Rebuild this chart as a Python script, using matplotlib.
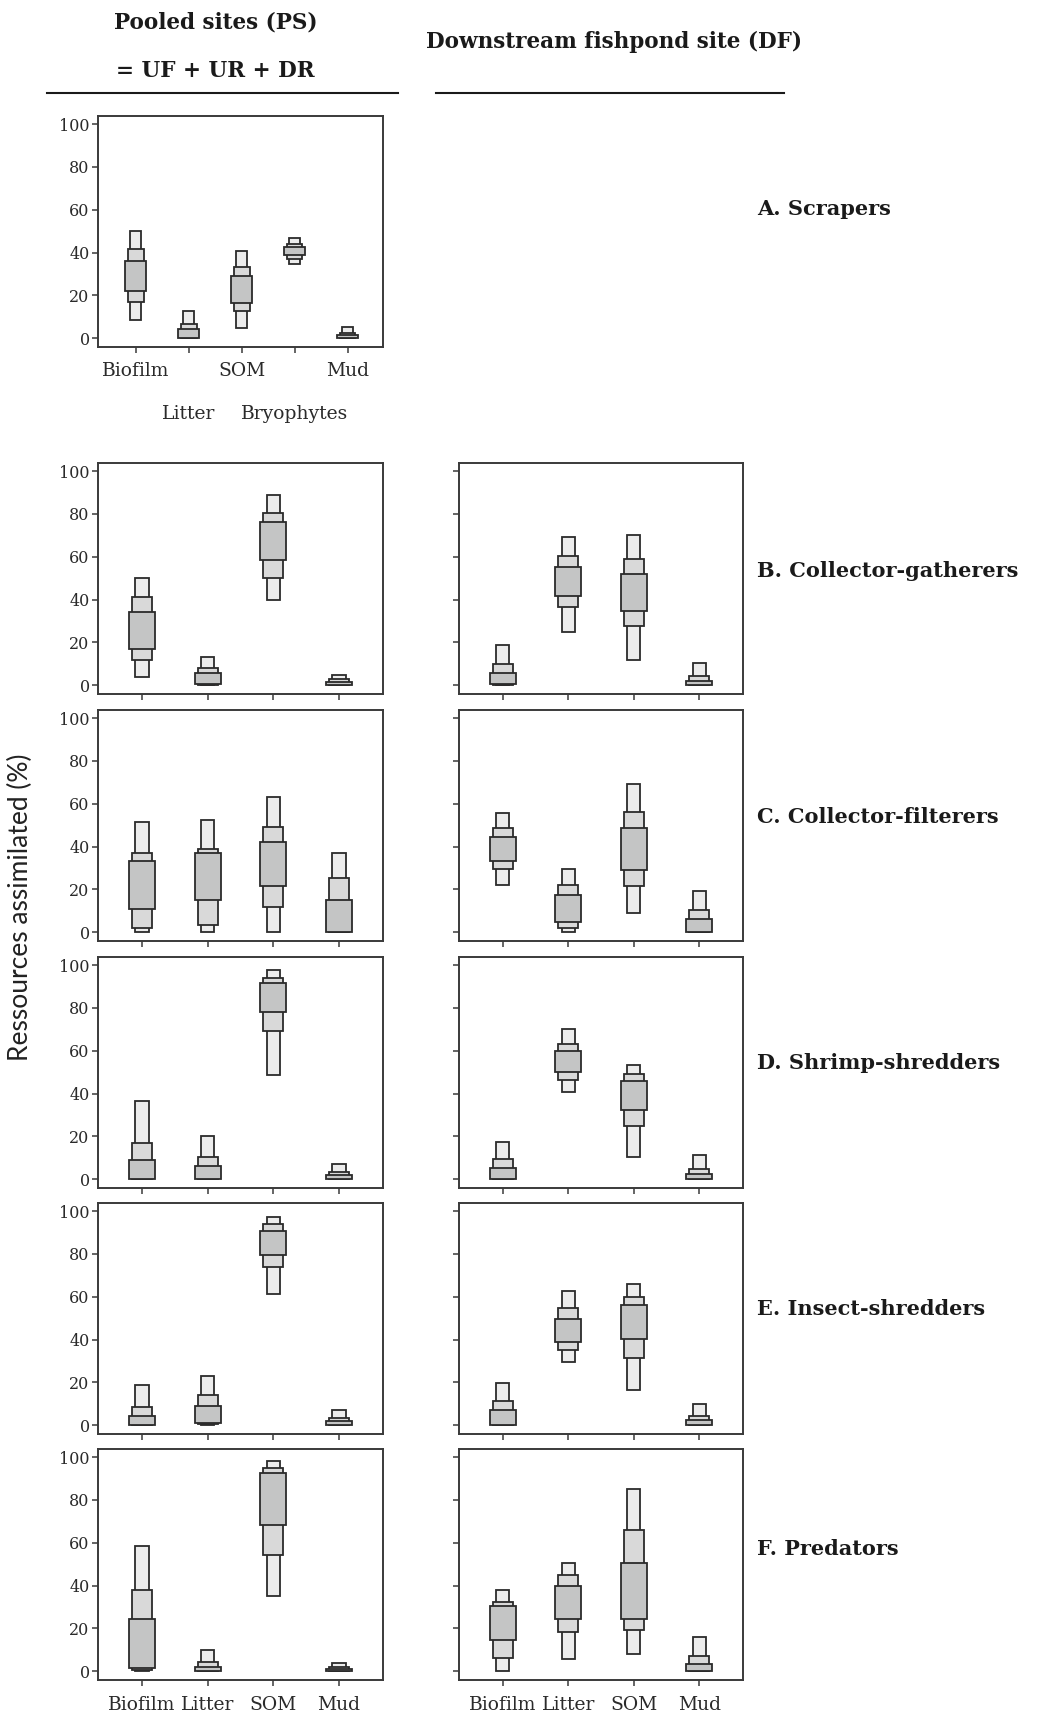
import matplotlib
matplotlib.use("Agg")
import matplotlib.pyplot as plt
from matplotlib.lines import Line2D

# columns: lo95, lo75, lo50, hi50, hi75, hi95 (% assimilated)
cats_a = ["Biofilm", "Litter", "SOM", "Bryophytes", "Mud"]
cats = ["Biofilm", "Litter", "SOM", "Mud"]

scr_ps = [[8.7, 16.7, 22.2, 36.0, 41.7, 50.1],
          [0.0, 0.1, 0.3, 4.1, 6.6, 12.6],
          [5.0, 12.5, 16.5, 28.9, 33.2, 40.6],
          [34.6, 37.1, 38.8, 42.7, 44.0, 46.6],
          [0.0, 0.1, 0.3, 1.6, 2.5, 5.3]]

cg_ps = [[3.9, 12.0, 17.0, 34.4, 41.4, 50.0],
         [0.0, 0.2, 0.5, 5.5, 8.0, 13.3],
         [40.0, 50.3, 58.4, 76.1, 80.5, 88.8],
         [0.0, 0.1, 0.3, 1.7, 2.7, 5.0]]
cg_df = [[0.0, 0.2, 0.4, 5.9, 9.7, 18.6],
         [24.7, 36.4, 41.7, 55.3, 60.5, 69.2],
         [11.9, 27.7, 34.7, 52.0, 59.1, 70.2],
         [0.0, 0.1, 0.3, 2.2, 4.2, 10.6]]

cf_ps = [[0.0, 2.0, 11.0, 33.4, 37.0, 51.4],
         [0.0, 3.6, 15.2, 37.0, 39.0, 52.5],
         [0.0, 11.6, 21.4, 42.3, 49.2, 63.0],
         [0.0, 0.0, 0.1, 14.9, 25.2, 37.2]]
cf_df = [[22.0, 29.4, 33.4, 44.4, 48.8, 55.9],
         [0.0, 1.9, 4.8, 17.5, 22.1, 29.7],
         [9.0, 21.8, 29.1, 48.5, 56.3, 69.3],
         [0.0, 0.1, 0.3, 6.0, 10.2, 19.3]]

ss_ps = [[0.0, 0.1, 0.3, 8.75, 16.7, 36.7],
         [0.0, 0.1, 0.3, 6.25, 10.3, 20.0],
         [48.75, 69.2, 78.1, 91.7, 94.2, 97.5],
         [0.0, 0.1, 0.3, 2.0, 3.6, 7.0]]
ss_df = [[0.0, 0.1, 0.3, 5.3, 9.4, 17.2],
         [40.6, 46.4, 50.0, 59.7, 63.0, 70.2],
         [10.3, 24.7, 32.2, 45.8, 49.1, 53.4],
         [0.0, 0.1, 0.3, 2.3, 5.0, 11.1]]

is_ps = [[0.0, 0.1, 0.3, 4.5, 8.6, 18.9],
         [0.0, 0.4, 0.9, 9.2, 13.9, 23.0],
         [61.5, 73.9, 79.5, 90.6, 93.9, 97.3],
         [0.0, 0.1, 0.3, 2.0, 3.6, 7.2]]
is_df = [[0.0, 0.1, 0.3, 6.9, 11.3, 19.6],
         [29.3, 35.1, 39.0, 49.8, 54.6, 62.6],
         [16.4, 31.3, 40.1, 56.3, 60.1, 65.9],
         [0.0, 0.1, 0.3, 2.5, 4.4, 9.9]]

pr_ps = [[0.0, 0.5, 1.7, 24.3, 37.8, 58.7],
         [0.0, 0.1, 0.3, 2.2, 4.4, 10.0],
         [35.0, 54.4, 68.5, 92.4, 94.7, 98.3],
         [0.0, 0.1, 0.2, 0.9, 2.0, 3.9]]
pr_df = [[0.3, 6.1, 14.7, 30.4, 32.4, 37.8],
         [5.8, 18.1, 24.3, 39.9, 44.8, 50.5],
         [8.0, 19.2, 24.3, 50.7, 65.8, 84.9],
         [0.0, 0.1, 0.3, 3.6, 7.2, 15.9]]

panel_labels = ["A. Scrapers", "B. Collector-gatherers", "C. Collector-filterers",
                "D. Shrimp-shredders", "E. Insect-shredders", "F. Predators"]

W, H = 1038, 1722
serif = "DejaVu Serif"
fig = plt.figure(figsize=(W / 100, H / 100), dpi=100)


def add_ax(x0, y0, x1, y1):
    return fig.add_axes([x0 / W, 1 - y1 / H, (x1 - x0) / W, (y1 - y0) / H])


def draw_panel(ax, rows, ncat, ylabels=True, xlabels=None):
    x = list(range(1, ncat + 1))
    bands = [(0, 5, 0.2, "#ececec"), (1, 4, 0.3, "#d9d9d9"), (2, 3, 0.4, "#c4c5c5")]
    for lo, hi, w, col in bands:
        ax.bar(x, [r[hi] - r[lo] for r in rows], bottom=[r[lo] for r in rows],
               width=w, color=col, edgecolor="#2b2b2b", linewidth=1.3, zorder=2)
    ax.set_xlim(0.33 if ncat == 4 else 0.29, ncat + 0.67)
    ax.set_ylim(-4.1, 103.8)
    ax.set_yticks([0, 20, 40, 60, 80, 100])
    for s in ax.spines.values():
        s.set_color("#3a3a3a")
        s.set_linewidth(1.4)
    ax.tick_params(axis="both", which="both", direction="out", length=4.5, width=1.1,
                   color="#3a3a3a", labelcolor="#2a2a2a")
    ax.tick_params(axis="y", pad=1.5, labelsize=11.5)
    ax.tick_params(axis="x", which="both", pad=7, labelsize=13.5)
    if ylabels:
        ax.set_yticklabels(["0", "20", "40", "60", "80", "100"], family=serif)
    else:
        ax.set_yticklabels([])
    if ncat == 4:
        ax.set_xticks(x)
        if xlabels is None:
            ax.set_xticklabels([])
        else:
            ax.set_xticklabels(xlabels, family=serif)


# panel A (pooled sites only): labels on two staggered rows
axA = add_ax(98, 116, 383, 347)
draw_panel(axA, scr_ps, 5)
axA.set_xticks([1, 3, 5], [cats_a[0], cats_a[2], cats_a[4]], family=serif)
axA.set_xticks([2, 4], [cats_a[1], cats_a[3]], minor=True, family=serif)
axA.tick_params(axis="x", which="major", pad=6)
axA.tick_params(axis="x", which="minor", pad=37)

tops = [463, 710, 957, 1203, 1449]
ps_rows = [cg_ps, cf_ps, ss_ps, is_ps, pr_ps]
df_rows = [cg_df, cf_df, ss_df, is_df, pr_df]
for i, top in enumerate(tops):
    last = i == len(tops) - 1
    axl = add_ax(98, top, 383, top + 231)
    draw_panel(axl, ps_rows[i], 4, xlabels=cats if last else None)
    axr = add_ax(459, top, 743, top + 231)
    draw_panel(axr, df_rows[i], 4, ylabels=False, xlabels=cats if last else None)

# headers
hdr = dict(ha="center", va="center", family=serif, weight="bold", size=15.5, color="#1a1a1a")
fig.text(216 / W, 1 - 23 / H, "Pooled sites (PS)", **hdr)
fig.text(215 / W, 1 - 71 / H, "= UF + UR + DR", **hdr)
fig.text(614 / W, 1 - 42 / H, "Downstream fishpond site (DF)", **hdr)
fig.add_artist(Line2D([47 / W, 398 / W], [1 - 93 / H] * 2, color="#1a1a1a", lw=1.5))
fig.add_artist(Line2D([436 / W, 784 / W], [1 - 93 / H] * 2, color="#1a1a1a", lw=1.5))

# row labels
label_y = [209, 571, 817, 1063, 1309, 1549]
for lab, yy in zip(panel_labels, label_y):
    fig.text(757 / W, 1 - yy / H, lab, ha="left", va="center", family=serif,
             weight="bold", size=15, color="#1a1a1a")

fig.text(20 / W, 1 - 907 / H, "Ressources assimilated (%)", rotation=90,
         ha="center", va="center", family="Lato", size=19, color="#222222")

fig.savefig("out.png", dpi=100, facecolor="white")
